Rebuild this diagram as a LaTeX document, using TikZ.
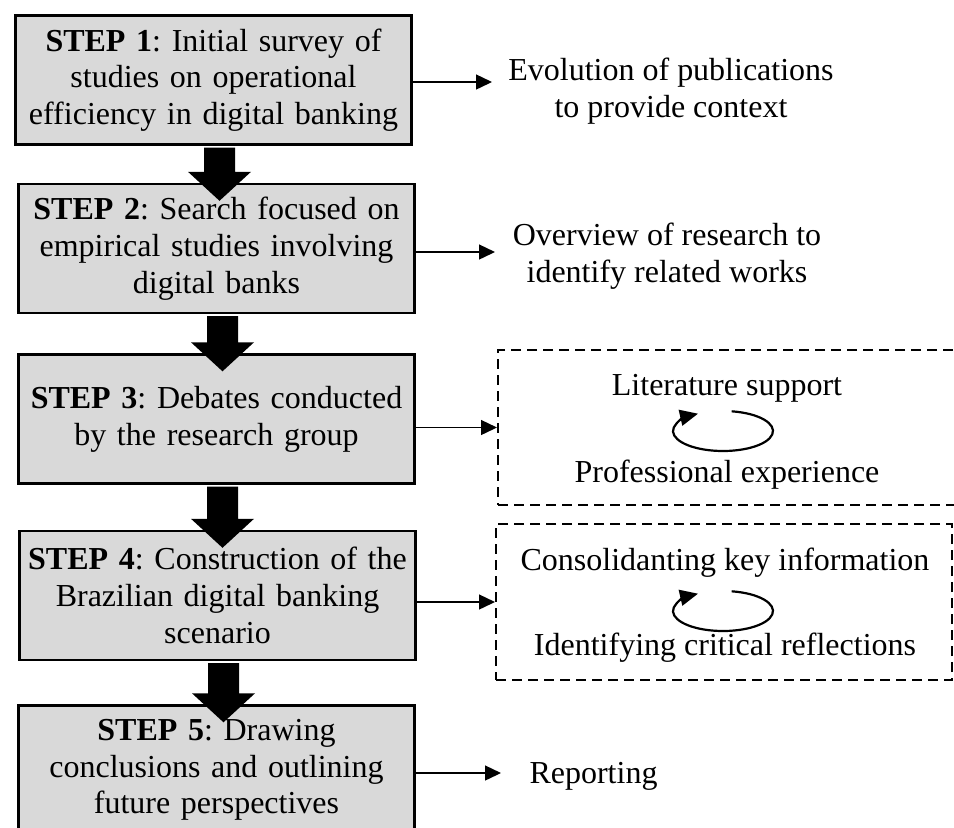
\documentclass[tikz,border=0pt]{standalone}
\usepackage{fontspec}
\setmainfont{Liberation Serif}
\usetikzlibrary{arrows.meta,calc}
\definecolor{boxgray}{RGB}{217,217,217}
\frenchspacing
\newcommand{\bigarrow}[2]{%
  \coordinate (ba) at ($(#1.south)+(6,2)$);
  \coordinate (bt) at ($(ba |- #2.north)+(0,18)$);
  \fill ($(ba)+(-15.5,0)$) -- ($(bt)+(-15.5,-29)$) -- ($(bt)+(-31.5,-29)$) -- (bt)
    -- ($(bt)+(31.5,-29)$) -- ($(bt)+(15.5,-29)$) -- ($(ba)+(15.5,0)$) -- cycle;}

\begin{document}
\begin{tikzpicture}[x=0.5pt, y=-0.5pt,
  font=\fontsize{16pt}{18.35pt}\selectfont,
  stepbox/.style={draw=black, line width=1.2pt, fill=boxgray, minimum width=198pt,
    minimum height=64.5pt, text width=196pt, align=center, inner sep=0pt},
  groupbox/.style={draw=black, line width=1pt, dash pattern=on 5pt off 3pt},
  flow/.style={draw=black, line width=0.7pt, -{Triangle[length=8pt, width=7.5pt]}},
  turn/.style={draw=black, line width=1.1pt, -{Triangle[length=9pt, width=8pt]}}]
\useasboundingbox (0,0) rectangle (954,827);
\node[stepbox] (s1) at (213.5,80) {\textbf{STEP 1}: Initial survey of\\studies on operational\\efficiency in digital banking};
\node[stepbox] (s2) at (216.5,248.5) {\textbf{STEP 2}: Search focused on\\empirical studies involving\\digital banks};
\node[stepbox] (s3) at (216.5,419) {\textbf{STEP 3}: Debates conducted\\by the research group};
\node[stepbox] (s4) at (217.5,595.5) {\textbf{STEP 4}: Construction of the\\Brazilian digital banking\\scenario};
\node[stepbox] (s5) at (216.5,770) {\textbf{STEP 5}: Drawing\\conclusions and outlining\\future perspectives};
\bigarrow{s1}{s2}
\bigarrow{s2}{s3}
\bigarrow{s3}{s4}
\bigarrow{s4}{s5}
\node[align=center] (evo) at (671,91) {Evolution of publications\\to provide context};
\node[align=center] (ovw) at (667,256) {Overview of research to\\identify related works};
\node[groupbox, minimum width=231pt, minimum height=77.5pt] (g3) at (729,427.5) {};
\node[groupbox, minimum width=228pt, minimum height=78pt] (g4) at (724,602) {};
\node[anchor=base] (lit) at (727,395) {Literature support};
\node[anchor=base] (pro) at (727,482) {Professional experience};
\node[anchor=base] (con) at (725,570) {Consolidanting key information};
\node[anchor=base] (idf) at (725,655) {Identifying critical reflections};
\node[anchor=base] (rep) at (593.5,783) {Reporting};
\coordinate (e1) at (492,82);
\coordinate (e2) at (495,252);
\coordinate (e5) at (501,773);
\draw[flow] (s1.east |- e1) -- (e1);
\draw[flow] (s2.east |- e2) -- (e2);
\draw[flow] (s3.east |- g3.west) -- (g3.west);
\draw[flow] (s4.east |- g4.west) -- (g4.west);
\draw[flow] (s5.east |- e5) -- (e5);
\coordinate (c3) at (723,431);
\coordinate (c4) at (723,611);
\draw[turn] ($(c3)+(-80:50 and 20)$) arc[start angle=-80, end angle=240, x radius=50, y radius=20];
\draw[turn] ($(c4)+(-80:50 and 20)$) arc[start angle=-80, end angle=240, x radius=50, y radius=20];
\end{tikzpicture}
\end{document}
